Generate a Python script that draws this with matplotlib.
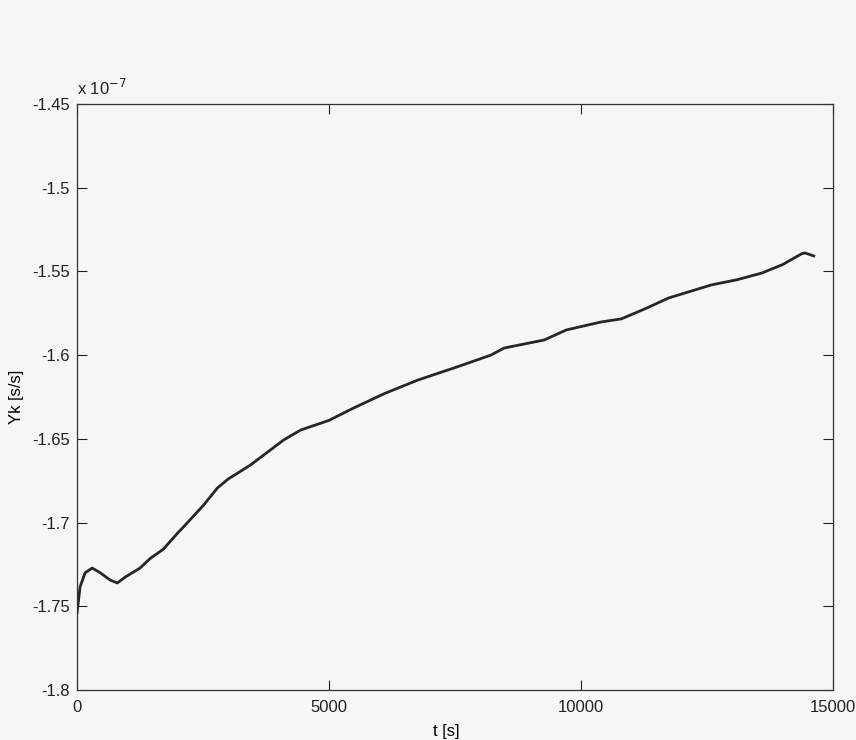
import matplotlib.pyplot as plt
from matplotlib.ticker import FuncFormatter

# Values (Yk in units of 1e-7 s/s)
t_s = [0, 60, 160, 300, 460, 660, 800, 955, 1250, 1450, 1710, 1990, 2110, 2500,
       2785, 3000, 3440, 4100, 4435, 5000, 5490, 6100, 6765, 7500, 8215, 8475,
       9270, 9710, 10405, 10800, 11300, 11740, 12590, 13100, 13590, 14000,
       14380, 14445, 14620]
yk = [-1.754, -1.7385, -1.730, -1.7272, -1.730, -1.7344, -1.7361, -1.7326,
      -1.7272, -1.7215, -1.7160, -1.7065, -1.7027, -1.6900, -1.6794, -1.6740,
      -1.6657, -1.6507, -1.6448, -1.6390, -1.6316, -1.6230, -1.6149, -1.6075,
      -1.6000, -1.5958, -1.5910, -1.5850, -1.5802, -1.5784, -1.5720, -1.5659,
      -1.5581, -1.5550, -1.5510, -1.5460, -1.5395, -1.5390, -1.5408]

x_ticks = [0, 5000, 10000, 15000]
y_ticks = [-1.8, -1.75, -1.7, -1.65, -1.6, -1.55, -1.5, -1.45]

plt.rcParams['font.family'] = ['Liberation Sans', 'DejaVu Sans']

bg = '#f6f6f8'
fig = plt.figure(figsize=(8.56, 7.40), dpi=100, facecolor=bg)
ax = fig.add_axes([0.090, 0.0676, 0.883, 0.792], facecolor=bg)

ax.plot(t_s, yk, color='#262626', linewidth=2.0)

ax.set_xlim(0, 15000)
ax.set_ylim(-1.8, -1.45)
ax.set_xticks(x_ticks)
ax.set_yticks(y_ticks)
ax.yaxis.set_major_formatter(FuncFormatter(lambda v, p: ('%g' % round(v, 2))))
ax.tick_params(direction='in', top=True, right=True, length=7, width=0.8,
               labelsize=12, colors='#222222')
ax.tick_params(axis='x', pad=7)
ax.tick_params(axis='y', pad=5)
for s in ax.spines.values():
    s.set_color('#333333')
    s.set_linewidth(0.9)

ax.set_xlabel('t [s]', fontsize=12)
ax.xaxis.set_label_coords(0.488, -0.058)
ax.set_ylabel('Yk [s/s]', fontsize=12, labelpad=6)
ax.text(0.0, 1.01, 'x 10$^{-7}$', transform=ax.transAxes, fontsize=12,
        ha='left', va='bottom', color='#222222')

fig.savefig('out.png', dpi=100, facecolor=bg)
